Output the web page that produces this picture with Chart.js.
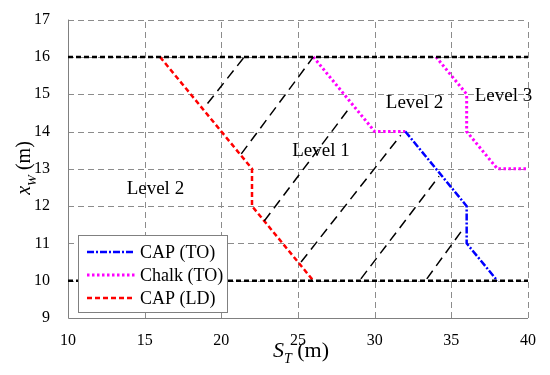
<!DOCTYPE html>
<html lang="en">
<head>
    <meta charset="UTF-8">
    <title>Levels</title>
    <script src="https://cdn.jsdelivr.net/npm/chart.js@4"></script>
    <style>
        body { margin: 0; background: #fff; }
    </style>
</head>
<body>
    <canvas id="myChart" width="550" height="375"></canvas>

    <script>
        // tick labels
        const xTicks = [10, 15, 20, 25, 30, 35, 40];
        const yTicks = [9, 10, 11, 12, 13, 14, 15, 16, 17];

        // CAP (TO)
        const capToX = [32, 36, 36, 38];
        const capToY = [14, 12, 11, 10];
        // Chalk (TO), two pieces (null = gap)
        const chalkX = [26, 30, 32, null, 34, 36, 36, 38, 40];
        const chalkY = [16, 14, 14, null, 16, 15, 14, 13, 13];
        // CAP (LD)
        const capLdX = [16, 22, 22, 26];
        const capLdY = [16, 13, 12, 10];
        // bounds
        const boundX = [10, 40];
        const boundY = [16, 10];
        // hatch lines: start / end points
        const hatchX0 = [19.1, 21.3, 22.8, 25.2, 29.1, 33.4];
        const hatchY0 = [14.75, 13.4, 11.6, 10.5, 10.05, 10.05];
        const hatchX1 = [21.5, 26.0, 28.3, 31.7, 34.2, 35.7];
        const hatchY1 = [16.0, 16.0, 14.6, 13.9, 12.8, 11.35];
        // region labels
        const levelText = ['Level 2', 'Level 1', 'Level 2', 'Level 3'];
        const levelX = [15.7, 26.5, 32.6, 38.4];
        const levelY = [12.45, 13.47, 14.76, 14.95];

        const pts = (xs, ys) => xs.map((x, i) => ({ x: x, y: ys[i] }));
        const serif = '"Liberation Serif", "Times New Roman", serif';

        const datasets = [];
        const capTo = { data: pts(capToX, capToY), borderColor: '#0000ff', borderWidth: 2.5, borderDash: [7, 2, 2, 2] };
        const chalk = { data: pts(chalkX, chalkY), borderColor: '#ff00ff', borderWidth: 3, borderDash: [2.5, 2.5] };
        const capLd = { data: pts(capLdX, capLdY), borderColor: '#ff0000', borderWidth: 2.5, borderDash: [5, 3] };

        boundY.forEach(function (b) {
            datasets.push({ data: pts(boundX, [b, b]), borderColor: '#000', borderWidth: 2.5, borderDash: [5, 3] });
        });
        hatchX0.forEach(function (x0, i) {
            datasets.push({
                data: pts([x0, hatchX1[i]], [hatchY0[i], hatchY1[i]]),
                borderColor: '#000', borderWidth: 1.5, borderDash: [10, 6]
            });
        });
        datasets.push(capTo, chalk, capLd);
        datasets.forEach(function (d) {
            d.pointRadius = 0;
            d.fill = false;
            d.spanGaps = false;
            d.tension = 0;
        });

        // dashed grid, drawn under the lines
        const gridPlugin = {
            id: 'dashGrid',
            beforeDatasetsDraw(chart) {
                const ctx = chart.ctx;
                const a = chart.chartArea;
                const xs = chart.scales.x, ys = chart.scales.y;
                ctx.save();
                ctx.strokeStyle = '#8c8c8c';
                ctx.lineWidth = 1;
                ctx.setLineDash([6, 4]);
                xTicks.forEach(function (v) {
                    if (v === xTicks[0]) return;
                    const p = Math.round(xs.getPixelForValue(v)) + 0.5;
                    ctx.beginPath();
                    ctx.moveTo(p, a.bottom);
                    ctx.lineTo(p, a.top);
                    ctx.stroke();
                });
                yTicks.forEach(function (v) {
                    if (v === yTicks[0]) return;
                    const p = Math.round(ys.getPixelForValue(v)) + 0.5;
                    ctx.beginPath();
                    ctx.moveTo(a.left, p);
                    ctx.lineTo(a.right, p);
                    ctx.stroke();
                });
                ctx.setLineDash([]);
                ctx.strokeStyle = '#808080';
                ctx.beginPath();
                ctx.moveTo(Math.round(a.left) + 0.5, a.top);
                ctx.lineTo(Math.round(a.left) + 0.5, Math.round(a.bottom) + 0.5);
                ctx.lineTo(a.right, Math.round(a.bottom) + 0.5);
                ctx.stroke();
                ctx.restore();
            }
        };

        // level labels + axis titles
        const textPlugin = {
            id: 'texts',
            afterDatasetsDraw(chart) {
                const ctx = chart.ctx;
                const xs = chart.scales.x, ys = chart.scales.y;
                ctx.save();
                ctx.fillStyle = '#000';
                ctx.textAlign = 'center';
                ctx.textBaseline = 'middle';
                ctx.font = '19px ' + serif;
                levelText.forEach(function (t, i) {
                    ctx.fillText(t, xs.getPixelForValue(levelX[i]), ys.getPixelForValue(levelY[i]));
                });

                // x title: S_T (m)
                ctx.textBaseline = 'alphabetic';
                ctx.textAlign = 'left';
                let cx = 273, cy = 357;
                ctx.font = 'italic 22px ' + serif;
                ctx.fillText('S', cx, cy);
                cx += ctx.measureText('S').width;
                ctx.font = 'italic 14px ' + serif;
                ctx.fillText('T', cx, cy + 6);
                cx += ctx.measureText('T').width;
                ctx.font = '22px ' + serif;
                ctx.fillText(' (m)', cx, cy);

                // y title: x_W (m)
                ctx.translate(30, 168);
                ctx.rotate(-Math.PI / 2);
                ctx.font = 'italic 20px ' + serif;
                const w1 = ctx.measureText('x').width;
                ctx.font = 'italic 13px ' + serif;
                const w2 = ctx.measureText('W').width;
                ctx.font = '20px ' + serif;
                const w3 = ctx.measureText(' (m)').width;
                let px = -(w1 + w2 + w3) / 2;
                ctx.font = 'italic 20px ' + serif;
                ctx.fillText('x', px, 0);
                px += w1;
                ctx.font = 'italic 13px ' + serif;
                ctx.fillText('W', px, 6);
                px += w2;
                ctx.font = '20px ' + serif;
                ctx.fillText(' (m)', px, 0);
                ctx.restore();
            }
        };

        // legend box inside the plot
        const legendPlugin = {
            id: 'boxLegend',
            afterDatasetsDraw(chart) {
                const ctx = chart.ctx;
                const items = [['CAP (TO)', capTo], ['Chalk (TO)', chalk], ['CAP (LD)', capLd]];
                ctx.save();
                ctx.fillStyle = '#fff';
                ctx.fillRect(78, 235, 149, 77);
                ctx.strokeStyle = '#808080';
                ctx.lineWidth = 1;
                ctx.strokeRect(78.5, 235.5, 149, 77);
                ctx.font = '18px ' + serif;
                ctx.textBaseline = 'middle';
                ctx.textAlign = 'left';
                items.forEach(function (it, i) {
                    const y = 252 + i * 23;
                    ctx.beginPath();
                    ctx.setLineDash(it[1].borderDash);
                    ctx.strokeStyle = it[1].borderColor;
                    ctx.lineWidth = it[1].borderWidth;
                    ctx.moveTo(87, y);
                    ctx.lineTo(135, y);
                    ctx.stroke();
                    ctx.fillStyle = '#000';
                    ctx.fillText(it[0], 140, y + 1);
                });
                ctx.restore();
            }
        };

        const ctx = document.getElementById('myChart').getContext('2d');
        const myChart = new Chart(ctx, {
            type: 'line',
            data: { datasets: datasets },
            options: {
                responsive: false,
                animation: false,
                layout: { padding: { top: 14, right: 22, left: 0, bottom: 0 } },
                plugins: { legend: { display: false }, tooltip: { enabled: false } },
                scales: {
                    x: {
                        type: 'linear', min: 10, max: 40,
                        afterBuildTicks: s => { s.ticks = xTicks.map(v => ({ value: v })); },
                        afterFit: s => { s.height = 57; },
                        grid: { display: false },
                        border: { display: false },
                        ticks: { color: '#000', padding: 5, font: { family: serif, size: 16 } }
                    },
                    y: {
                        type: 'linear', min: 9, max: 17,
                        afterBuildTicks: s => { s.ticks = yTicks.map(v => ({ value: v })); },
                        afterFit: s => { s.width = 68; },
                        grid: { display: false },
                        border: { display: false },
                        ticks: { color: '#000', padding: 10, font: { family: serif, size: 16 } }
                    }
                }
            },
            plugins: [gridPlugin, textPlugin, legendPlugin]
        });
    </script>
</body>
</html>
